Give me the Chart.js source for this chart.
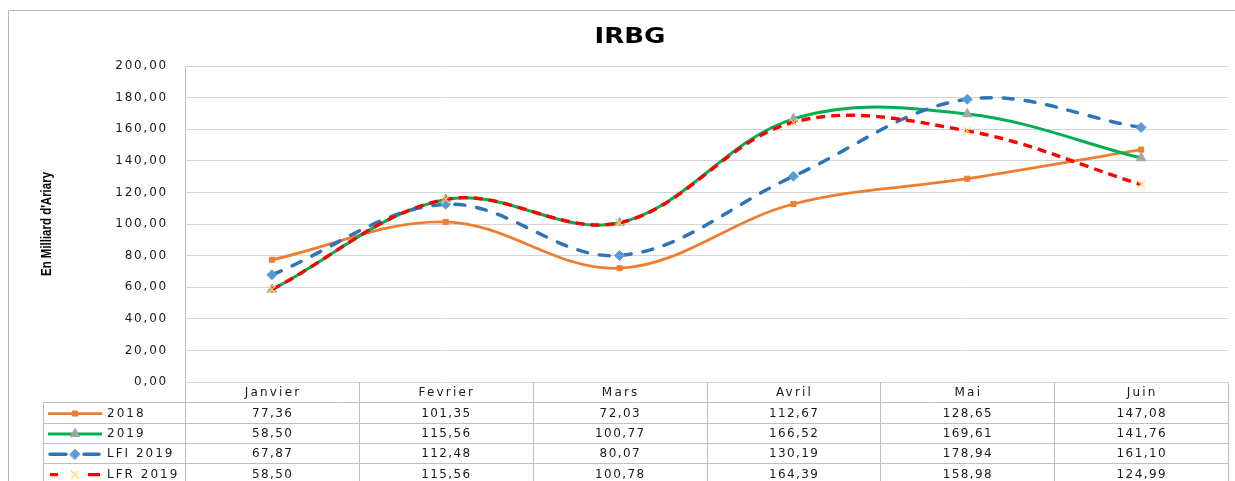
<!DOCTYPE html>
<html><head><meta charset="utf-8">
<style>html,body{margin:0;padding:0;background:#fff;overflow:hidden}#wrap{width:1235px;height:481px;position:relative}</style>
<script src="https://cdn.jsdelivr.net/npm/chart.js@4.4.0/dist/chart.umd.min.js"></script>
</head><body><div id="wrap"><canvas id="c" width="1235" height="481"></canvas></div>
<script>
const categories = ['Janvier','Fevrier','Mars','Avril','Mai','Juin'];
const series2018 = [77.36,101.35,72.03,112.67,128.65,147.08];
const series2019 = [58.50,115.56,100.77,166.52,169.61,141.76];
const seriesLFI2019 = [67.87,112.48,80.07,130.19,178.94,161.10];
const seriesLFR2019 = [58.50,115.56,100.78,164.39,158.98,124.99];
const seriesNames = ['2018','2019','LFI 2019','LFR 2019'];
const yTickValues = [0,20,40,60,80,100,120,140,160,180,200];
const chartTitle = 'IRBG';
const yAxisTitle = "En Milliard d'Ariary";

const FONT = "'DejaVu Sans', Verdana, sans-serif";
const fmt = v => v.toFixed(2).replace('.', ',');

const datasets = [
  {label: seriesNames[0], data: series2018, borderColor:'#ED7D31', borderWidth:2.75, pointStyle:'rect', pointRadius:3.6, pointBackgroundColor:'#ED7D31', pointBorderColor:'#ED7D31', pointBorderWidth:1, order:4, dash:[], cap:'butt'},
  {label: seriesNames[1], data: series2019, borderColor:'#00B050', borderWidth:3, pointStyle:'triangle', pointRadius:5.5, pointBackgroundColor:'#A5A5A5', pointBorderColor:'#A5A5A5', pointBorderWidth:1, order:3, dash:[], cap:'butt'},
  {label: seriesNames[2], data: seriesLFI2019, borderColor:'#2E75B6', borderWidth:3.5, borderDash:[10,12], borderCapStyle:'round', pointStyle:'rectRot', pointRadius:5, pointBackgroundColor:'#5B9BD5', pointBorderColor:'#5B9BD5', pointBorderWidth:1, order:2, dash:[10,12], cap:'round'},
  {label: seriesNames[3], data: seriesLFR2019, borderColor:'#FF0000', borderWidth:3.4, borderDash:[9,6], pointStyle:'crossRot', pointRadius:5.5, pointBackgroundColor:'rgba(0,0,0,0)', pointBorderColor:'#FFD966', pointBorderWidth:1.2, order:1, dash:[9,6], cap:'butt'}
];
datasets.forEach(d => { d.fill = false; d.tension = 0.36; d.cubicInterpolationMode = 'default'; d.pointHoverRadius = d.pointRadius; });

const decor = {
  id: 'decor',
  beforeDraw(chart) {
    const ctx = chart.ctx;
    ctx.save();
    ctx.fillStyle = '#fff'; ctx.fillRect(0, 0, chart.width, chart.height);
    ctx.strokeStyle = '#b4b4b4'; ctx.lineWidth = 1;
    ctx.beginPath(); ctx.moveTo(8.5, chart.height + 5); ctx.lineTo(8.5, 10.5); ctx.lineTo(chart.width + 5, 10.5); ctx.stroke();
    ctx.restore();
    ctx.letterSpacing = '1.8px';
  },
  afterDraw(chart) {
    const ctx = chart.ctx;
    const x = chart.scales.x;
    const area = chart.chartArea;
    ctx.save();
    ctx.letterSpacing = '0px';
    ctx.fillStyle = '#000';
    // title
    ctx.save();
    ctx.font = `bold 21px ${FONT}`;
    const tw = ctx.measureText(chartTitle).width;
    ctx.translate(630, 43);
    ctx.scale(71 / tw, 1);
    ctx.textAlign = 'center';
    ctx.textBaseline = 'alphabetic';
    ctx.fillText(chartTitle, 0, 0);
    ctx.restore();
    // y title
    ctx.save();
    ctx.translate(47, 224);
    ctx.rotate(-Math.PI / 2);
    ctx.font = "bold 15px 'Liberation Sans', Arial, sans-serif";
    const w = ctx.measureText(yAxisTitle).width;
    ctx.scale(104 / w, 1);
    ctx.textAlign = 'center'; ctx.textBaseline = 'middle';
    ctx.fillText(yAxisTitle, 0, 0);
    ctx.restore();

    // table
    const colW = x.getPixelForValue(1) - x.getPixelForValue(0);
    const x0 = x.getPixelForValue(0) - colW / 2;
    const top = area.bottom;
    const rowH = 20.35;
    const legendLeft = 43;
    const bottom = chart.height + 5;
    ctx.strokeStyle = '#bfbfbf'; ctx.lineWidth = 1;
    ctx.beginPath();
    for (let i = 0; i <= categories.length; i++) {
      const px = Math.round(x0 + i * colW) + 0.5;
      ctx.moveTo(px, top); ctx.lineTo(px, bottom);
    }
    ctx.moveTo(legendLeft + 0.5, top + rowH); ctx.lineTo(legendLeft + 0.5, bottom);
    for (let r = 1; r <= seriesNames.length; r++) {
      const py = Math.round(top + r * rowH) + 0.5;
      ctx.moveTo(legendLeft, py); ctx.lineTo(area.right, py);
    }
    ctx.stroke();

    ctx.fillStyle = '#1a1a1a';
    ctx.textAlign = 'center'; ctx.textBaseline = 'middle';
    ctx.font = `12px ${FONT}`;
    ctx.letterSpacing = '2.2px';
    categories.forEach((c, i) => ctx.fillText(c, x.getPixelForValue(i) + 1.1, top + rowH / 2 + 1));
    ctx.letterSpacing = '1.4px';
    datasets.forEach((d, r) => {
      const cy = top + (r + 1.5) * rowH + 1;
      d.data.forEach((v, i) => ctx.fillText(fmt(v), x.getPixelForValue(i) + 0.7, cy));
    });
    // legend keys
    datasets.forEach((d, r) => {
      const cy = top + (r + 1.5) * rowH + 1;
      ctx.save();
      ctx.strokeStyle = d.borderColor; ctx.lineWidth = d.borderWidth;
      ctx.lineCap = d.cap;
      if (d.dash.length) {
        // two dash pieces either side of the marker
        ctx.beginPath(); ctx.moveTo(50, cy); ctx.lineTo(d.cap === 'round' ? 66 : 58, cy);
        ctx.moveTo(d.cap === 'round' ? 84 : 88, cy); ctx.lineTo(d.cap === 'round' ? 99 : 100, cy); ctx.stroke();
      } else {
        ctx.beginPath(); ctx.moveTo(48, cy); ctx.lineTo(102, cy); ctx.stroke();
      }
      ctx.fillStyle = d.pointBackgroundColor; ctx.strokeStyle = d.pointBorderColor; ctx.lineWidth = d.pointBorderWidth;
      if (Chart.helpers && Chart.helpers.drawPoint) {
        Chart.helpers.drawPoint(ctx, {pointStyle: d.pointStyle, radius: d.pointRadius, rotation: 0, borderWidth: d.pointBorderWidth}, 75, cy);
      }
      ctx.restore();
      ctx.textAlign = 'left';
      ctx.letterSpacing = '2px';
      ctx.fillText(d.label, 107, cy);
    });
    ctx.restore();
  }
};

new Chart(document.getElementById('c'), {
  type: 'line',
  data: {labels: categories, datasets},
  plugins: [decor],
  options: {
    responsive: false,
    animation: false,
    events: [],
    layout: {padding: {top: 66, left: 0, right: 7, bottom: 99}},
    plugins: {legend: {display: false}, title: {display: false}, tooltip: {enabled: false}},
    scales: {
      x: {type: 'category', offset: true, display: false},
      y: {
        min: 0, max: 200,
        afterBuildTicks: s => { s.ticks = yTickValues.map(v => ({value: v})); },
        afterFit: s => { s.width = 185; },
        grid: {color: '#d4d4d4', drawTicks: false, lineWidth: 1},
        border: {color: '#bfbfbf', width: 1},
        ticks: {padding: 17, color: '#1a1a1a', font: {family: FONT, size: 12}, callback: v => fmt(v)}
      }
    }
  }
});
</script></body></html>
